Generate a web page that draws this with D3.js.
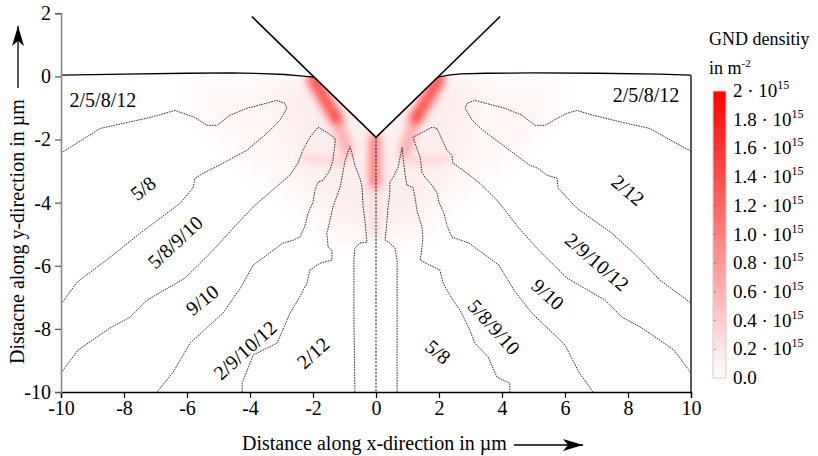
<!DOCTYPE html>
<html>
<head>
<meta charset="utf-8">
<script src="https://cdn.jsdelivr.net/npm/d3@7"></script>
<style>
  html, body { margin: 0; padding: 0; background: #fff; }
  svg { display: block; }
  svg text { font-family: "Liberation Serif", "Times New Roman", "DejaVu Serif", serif !important; }
</style>
</head>
<body>
<svg id="chart" width="818" height="456"></svg>
<script>
const SERIF = "'Liberation Serif', 'Times New Roman', 'DejaVu Serif', serif";

// ---- axes ----
const xTicks = [-10, -8, -6, -4, -2, 0, 2, 4, 6, 8, 10];
const yTicks = [2, 0, -2, -4, -6, -8, -10];

// ---- GND density colour bar (units of 1e15 m^-2) ----
const densityTicks = [2, 1.8, 1.6, 1.4, 1.2, 1.0, 0.8, 0.6, 0.4, 0.2, 0];
const densityTickLabels = ["2", "1.8", "1.6", "1.4", "1.2", "1.0", "0.8", "0.6", "0.4", "0.2", "0.0"];

// ---- specimen surface and indenter (µm) ----
const surfaceLeft = [[-10, 0.04], [-8, 0.07], [-6, 0.1], [-4.6, 0.11], [-3.6, 0.09], [-2.9, 0.06], [-2.4, 0.02], [-1.97, -0.02]];
const surfaceRight = [[1.97, -0.02], [2.3, 0.04], [2.7, 0.08], [3.5, 0.1], [5, 0.11], [7, 0.1], [9, 0.07], [10, 0.04]];
const indenter = [[-3.94, 1.9], [0, -1.93], [3.94, 1.9]];
const axisLine = [[0, -1.93], [0, -10]];

// ---- slip-system region boundaries (µm) ----
const lobeLeft = [[-10, -2.43], [-8.76, -1.65], [-7.17, -1.3], [-6.38, -1.08], [-5.75, -1.3], [-5.37, -1.55], [-5.05, -1.55],
  [-4.63, -1.23], [-4.1, -1.01], [-3.14, -0.76], [-2.89, -0.85], [-2.83, -1.01], [-3.05, -1.39], [-3.46, -1.8],
  [-4.1, -2.34], [-4.86, -2.75], [-5.49, -3.07], [-5.75, -3.23], [-5.81, -3.54], [-6.22, -4.02], [-7.49, -4.97],
  [-8.44, -5.73], [-9.49, -6.52], [-10, -7.22]];
const outerSpikeLeft = [[-10, -9.4], [-9.46, -8.67], [-8.44, -7.97], [-7.81, -7.63], [-7.27, -7.09], [-6.06, -6.39],
  [-5.17, -5.51], [-4.54, -4.81], [-3.84, -4.08], [-3.21, -3.54], [-2.73, -3.13], [-2.48, -2.75], [-2.32, -2.34],
  [-2.1, -1.93], [-1.84, -1.61], [-1.56, -1.77], [-1.3, -1.96], [-1.3, -2.12], [-1.37, -2.66], [-1.46, -2.97],
  [-1.68, -3.29], [-1.84, -3.35], [-1.94, -3.61], [-2.0, -3.99], [-2.16, -4.34], [-2.25, -4.72], [-2.41, -5.09],
  [-2.63, -5.19], [-2.95, -5.28], [-3.9, -5.98], [-4.3, -6.7], [-4.86, -7.5], [-5.9, -8.45], [-6.44, -9.37], [-6.95, -10]];
const innerSpikeLeft = [[-4.25, -10], [-4.25, -9.72], [-3.9, -8.83], [-3.14, -8.45], [-2.73, -7.5], [-2.48, -7.09],
  [-2.19, -6.55], [-2.1, -6.14], [-1.78, -5.92], [-1.4, -5.82], [-1.4, -5.51], [-1.52, -5.41], [-1.56, -4.97],
  [-1.46, -4.56], [-1.37, -4.15], [-1.14, -3.51], [-1.05, -3.04], [-0.98, -2.66], [-0.83, -2.22], [-0.76, -2.44],
  [-0.67, -2.82], [-0.51, -3.23], [-0.44, -3.51], [-0.41, -4.15], [-0.35, -4.56], [-0.29, -5.25], [-0.51, -5.28],
  [-0.67, -5.44], [-0.7, -5.82], [-0.7, -7.72], [-0.67, -10]];
const innerSpikeRight = [[0.67, -10], [0.67, -7.72], [0.67, -5.82], [0.6, -5.44], [0.44, -5.28], [0.29, -5.19],
  [0.35, -4.56], [0.38, -4.15], [0.44, -3.7], [0.44, -3.35], [0.54, -3.2], [0.7, -2.88], [0.83, -2.25], [0.86, -2.56],
  [0.92, -3.07], [0.98, -3.45], [1.17, -3.51], [1.24, -3.83], [1.3, -4.24], [1.46, -4.78], [1.49, -5.09], [1.46, -5.41],
  [1.4, -5.82], [1.71, -5.98], [2.03, -6.14], [2.13, -6.55], [2.44, -7.09], [2.67, -7.41], [2.98, -8.04], [3.14, -8.45],
  [3.56, -8.89], [3.84, -9.53], [4.25, -9.72], [4.25, -10]];
const outerSpikeRight = [[6.89, -10], [6.44, -9.37], [6.0, -8.51], [4.95, -7.5], [4.4, -6.8], [3.9, -5.98], [2.95, -5.28],
  [2.41, -5.09], [2.25, -4.72], [2.16, -4.34], [2.0, -3.99], [1.94, -3.7], [1.78, -3.45], [1.56, -3.2], [1.46, -3.04],
  [1.4, -2.56], [1.24, -2.12], [1.17, -1.93], [1.78, -1.61], [1.94, -1.65], [2.25, -2.34], [2.41, -2.5], [2.44, -2.75],
  [2.76, -2.97], [3.3, -3.39], [3.84, -3.92], [4.54, -4.81], [5.17, -5.51], [6.06, -6.39], [7.27, -7.09], [7.81, -7.63],
  [8.44, -7.97], [9.46, -8.67], [10, -9.4]];
const lobeRight = [[10, -2.37], [9.24, -1.96], [8.7, -1.65], [7.84, -1.46], [6.89, -1.23], [6.38, -1.08], [6.06, -1.17],
  [5.75, -1.33], [5.37, -1.55], [5.05, -1.55], [4.63, -1.23], [4.1, -1.01], [3.14, -0.76], [2.89, -0.85], [2.83, -1.01],
  [3.05, -1.39], [3.4, -1.71], [4.16, -2.28], [4.89, -2.82], [5.14, -2.91], [5.43, -3.13], [5.75, -3.23], [5.78, -3.54],
  [6.38, -4.18], [7.49, -4.97], [8.32, -5.73], [9.02, -6.46], [10, -7.18]];
const boundaries = [lobeLeft, outerSpikeLeft, innerSpikeLeft, innerSpikeRight, outerSpikeRight, lobeRight];

// active slip systems per region: [text, x µm, y µm, rotation deg]
const regionLabels = [
  ["2/5/8/12", -8.67, -0.75, 0], ["2/5/8/12", 8.57, -0.6, 0],
  ["5/8", -7.4, -3.54, -38], ["5/8/9/10", -6.38, -5.25, -43], ["9/10", -5.52, -7.08, -39],
  ["2/9/10/12", -4.16, -8.67, -42], ["2/12", -2.0, -8.76, -42],
  ["5/8", 1.97, -8.73, 40], ["5/8/9/10", 3.75, -7.94, 48], ["9/10", 5.46, -6.9, 42],
  ["2/9/10/12", 7.02, -5.88, 41], ["2/12", 8.0, -3.6, 40]
];

// GND density concentrations: [x1, y1, x2, y2, density (1e15 m^-2), band width µm]
const densityBands = [
  [-2.0, -0.08, -1.25, -1.35, 1.4, 0.4],
  [-1.25, -1.35, -0.9, -2.4, 0.7, 0.34],
  [2.0, -0.08, 1.25, -1.35, 1.4, 0.4],
  [1.25, -1.35, 0.9, -2.4, 0.7, 0.34],
  [-0.04, -1.95, -0.04, -3.4, 1.05, 0.34],
  [-0.04, -3.4, -0.04, -5.0, 0.3, 0.3],
  [-2.3, -2.6, -1.0, -2.7, 0.38, 0.22],
  [1.0, -2.7, 2.3, -2.6, 0.38, 0.22]
];
// diffuse background density: [density, outline]
const densityHaze = [
  [0.07, [[-6, -0.1], [-2, -0.05], [0, -1.9], [2, -0.05], [6, -0.1], [5.5, -1.5], [4, -2.8], [2.5, -4.2], [1.2, -5.3],
          [-1.2, -5.3], [-2.5, -4.2], [-4, -2.8], [-5.5, -1.5]]],
  [0.13, [[-3.2, -0.1], [-2, -0.05], [0, -1.9], [2, -0.05], [3.2, -0.1], [2.6, -1.8], [1.8, -3.5], [0.8, -4.6],
          [-0.8, -4.6], [-1.8, -3.5], [-2.6, -1.8]]]
];

// ---- layout ----
const svg = d3.select("#chart").attr("font-family", SERIF);
const x = d3.scaleLinear().domain([-10, 10]).range([61, 691]);
const y = d3.scaleLinear().domain([-10, 2]).range([392, 13.3]);
const color = d3.scaleLinear().domain([0, 2]).range(["#ffffff", "#ff0000"]);
const line = d3.line().x(d => x(d[0])).y(d => y(d[1]));

const defs = svg.append("defs");
defs.append("clipPath").attr("id", "material")
  .append("path")
  .attr("d", line(surfaceLeft.concat([[0, -1.93]], surfaceRight, [[10, -10], [-10, -10]])) + "Z");
defs.append("filter").attr("id", "blurWide").attr("x", "-50%").attr("y", "-50%").attr("width", "200%").attr("height", "200%")
  .append("feGaussianBlur").attr("stdDeviation", 11);
defs.append("filter").attr("id", "blurBand").attr("x", "-50%").attr("y", "-50%").attr("width", "200%").attr("height", "200%")
  .append("feGaussianBlur").attr("stdDeviation", 4);

// density field
const field = svg.append("g").attr("clip-path", "url(#material)");
field.append("g").attr("filter", "url(#blurWide)")
  .selectAll("path").data(densityHaze).join("path")
  .attr("d", d => line(d[1]) + "Z")
  .attr("fill", d => color(d[0]));
field.append("g").attr("filter", "url(#blurBand)")
  .selectAll("line").data(densityBands).join("line")
  .attr("x1", d => x(d[0])).attr("y1", d => y(d[1]))
  .attr("x2", d => x(d[2])).attr("y2", d => y(d[3]))
  .attr("stroke", d => color(d[4]))
  .attr("stroke-width", d => d[5] * (x(1) - x(0)))
  .attr("stroke-linecap", "round")
  .style("mix-blend-mode", "multiply");

// region boundaries
svg.append("g").selectAll("path").data(boundaries).join("path")
  .attr("d", line)
  .attr("fill", "none")
  .attr("stroke", "#1a1a1a")
  .attr("stroke-width", 0.9)
  .attr("stroke-dasharray", "1.6,1");
svg.append("path").attr("d", line(axisLine))
  .attr("fill", "none").attr("stroke", "#111").attr("stroke-width", 1).attr("stroke-dasharray", "2,1.5");

// surface, indenter, frame
svg.append("path").attr("d", line(surfaceLeft)).attr("fill", "none").attr("stroke", "#000").attr("stroke-width", 1.3);
svg.append("path").attr("d", line(surfaceRight)).attr("fill", "none").attr("stroke", "#000").attr("stroke-width", 1.3);
svg.append("path").attr("d", line(indenter)).attr("fill", "none").attr("stroke", "#000").attr("stroke-width", 1.6);
svg.append("line").attr("x1", x(10)).attr("x2", x(10)).attr("y1", y(0.04)).attr("y2", y(-10))
  .attr("stroke", "#000").attr("stroke-width", 1.3);

// region labels
svg.append("g").selectAll("text").data(regionLabels).join("text")
  .attr("transform", d => `translate(${x(d[1])},${y(d[2])}) rotate(${d[3]})`)
  .attr("text-anchor", "middle").attr("dy", "0.35em")
  .attr("font-family", SERIF).attr("font-size", 20).attr("fill", "#000")
  .text(d => d[0]);

// axes
const xAxis = svg.append("g").attr("transform", `translate(0,${y(-10)})`)
  .call(d3.axisBottom(x).tickValues(xTicks).tickFormat(d => String(d)).tickSize(6).tickPadding(3));
const yAxis = svg.append("g").attr("transform", `translate(${x(-10)},0)`)
  .call(d3.axisLeft(y).tickValues(yTicks).tickFormat(d => String(d)).tickSize(6).tickPadding(4));
[xAxis, yAxis].forEach(a => {
  a.attr("font-family", SERIF).attr("font-size", 20);
  a.selectAll("text").attr("font-family", SERIF).attr("font-size", 20).attr("fill", "#000");
  a.selectAll(".tick line").attr("stroke", "#000").attr("stroke-width", 1.2);
});
xAxis.select(".domain").attr("stroke", "#000").attr("stroke-width", 1.4);
yAxis.select(".domain").attr("stroke", "#8a8a8a").attr("stroke-width", 1.6);
yAxis.selectAll(".tick line").attr("stroke", "#555");

// axis titles with arrows
defs.append("marker").attr("id", "arrowHead").attr("viewBox", "0 0 20 12").attr("refX", 20).attr("refY", 6)
  .attr("markerWidth", 20).attr("markerHeight", 12).attr("markerUnits", "userSpaceOnUse").attr("orient", "auto")
  .append("path").attr("d", "M0,0 L20,6 L0,12 L5,6 Z").attr("fill", "#000");
svg.append("text").attr("x", 242).attr("y", 450).attr("font-family", SERIF).attr("font-size", 20)
  .text("Distance along x-direction in µm");
svg.append("line").attr("x1", 514).attr("x2", 583).attr("y1", 445).attr("y2", 445)
  .attr("stroke", "#000").attr("stroke-width", 1.3).attr("marker-end", "url(#arrowHead)");
svg.append("text").attr("transform", "translate(24,364) rotate(-90)").attr("font-family", SERIF).attr("font-size", 20)
  .text("Distacne along y-direction in µm");
svg.append("line").attr("x1", 18).attr("x2", 18).attr("y1", 88).attr("y2", 26)
  .attr("stroke", "#000").attr("stroke-width", 1.3).attr("marker-end", "url(#arrowHead)");

// colour bar
const lg = d3.scaleLinear().domain([0, 2]).range([378, 91]);
const grad = defs.append("linearGradient").attr("id", "gndGrad").attr("x1", 0).attr("y1", 1).attr("x2", 0).attr("y2", 0);
grad.selectAll("stop").data(densityTicks.slice().reverse()).join("stop")
  .attr("offset", d => d / 2).attr("stop-color", d => color(d));
svg.append("rect").attr("x", 713).attr("y", lg(2)).attr("width", 13).attr("height", lg(0) - lg(2))
  .attr("fill", "url(#gndGrad)").attr("stroke", "#cfcfcf").attr("stroke-width", 1);
svg.append("g").selectAll("line").data(densityTicks.slice(1, -1)).join("line")
  .attr("x1", 713.5).attr("x2", 716).attr("y1", d => lg(d)).attr("y2", d => lg(d))
  .attr("stroke", "rgba(120,0,0,0.35)").attr("stroke-width", 1);
const tickText = svg.append("g").selectAll("text").data(densityTicks).join("text")
  .attr("x", 733).attr("y", d => lg(d) + 6).attr("font-family", SERIF).attr("font-size", 19);
tickText.append("tspan").text((d, i) => densityTickLabels[i] + (d === 0 ? "" : " · 10"));
tickText.filter(d => d !== 0).append("tspan").attr("dy", -8).attr("font-size", 12).text("15");

const title = svg.append("text").attr("x", 709).attr("font-family", SERIF).attr("font-size", 18);
title.append("tspan").attr("x", 709).attr("y", 45).text("GND densitiy");
title.append("tspan").attr("x", 709).attr("y", 74).text("in m");
title.append("tspan").attr("dy", -7).attr("font-size", 11).text("-2");
</script>
</body>
</html>
